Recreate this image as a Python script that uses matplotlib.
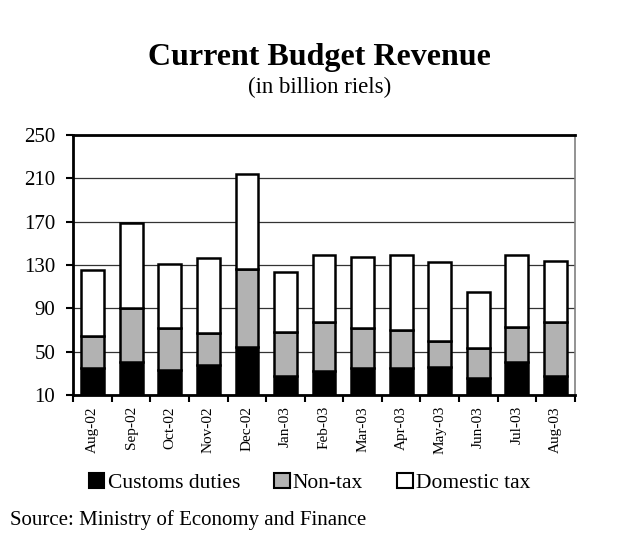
import numpy as np
import matplotlib
matplotlib.use("Agg")
import matplotlib.pyplot as plt
from matplotlib.patches import Patch

# Data (billion riels)
months = ["Aug-02", "Sep-02", "Oct-02", "Nov-02", "Dec-02", "Jan-03", "Feb-03",
          "Mar-03", "Apr-03", "May-03", "Jun-03", "Jul-03", "Aug-03"]
customs = [34.6, 40.8, 33.4, 37.7, 54.0, 27.8, 31.9, 35.2, 34.6, 35.5, 26.0, 40.2, 27.8]
non_tax = [30.1, 49.2, 38.1, 29.2, 72.3, 40.1, 45.2, 36.3, 35.4, 24.3, 27.1, 32.8, 49.9]
domestic = [60.7, 78.5, 59.1, 69.6, 87.4, 55.3, 61.9, 66.2, 69.2, 72.7, 52.3, 66.0, 56.0]
y_ticks = [10, 50, 90, 130, 170, 210, 250]

plt.rcParams['font.family'] = ['Liberation Serif', 'DejaVu Serif']

fig = plt.figure(figsize=(6.36, 5.4), dpi=100)
ax = fig.add_axes([0.1153, 0.2685, 0.7883, 0.4815])

x = np.arange(len(months))
c = np.array(customs)
n = np.array(non_tax)
d = np.array(domestic)
w = 0.59
ax.bar(x, c, w, color='black', edgecolor='black', linewidth=1.8, zorder=3)
ax.bar(x, n, w, bottom=c, color='#b2b2b2', edgecolor='black', linewidth=1.8, zorder=3)
ax.bar(x, d, w, bottom=c + n, color='white', edgecolor='black', linewidth=1.8, zorder=3)

# Axes
ax.set_ylim(10, 250)
ax.set_yticks(y_ticks)
ax.set_xlim(-0.5, len(months) - 0.5)
ax.set_xticks(x)
ax.set_xticklabels(months, rotation=90, fontsize=11)
ax.set_xticks(np.arange(-0.5, len(months)), minor=True)
ax.tick_params(axis='x', which='major', length=0, pad=8)
ax.tick_params(axis='x', which='minor', length=5, width=1.5, direction='out')
ax.tick_params(axis='y', length=5, width=1.5, direction='out', labelsize=15, pad=8)
ax.yaxis.grid(True, color='#333333', linewidth=0.9, zorder=0)
ax.set_axisbelow(True)

for side in ['left', 'bottom', 'top']:
    ax.spines[side].set_linewidth(2)
    ax.spines[side].set_color('black')
ax.spines['right'].set_linewidth(1.2)
ax.spines['right'].set_color('#808080')

# Titles
fig.text(0.503, 0.893, "Current Budget Revenue", ha='center', va='center',
         fontsize=23, fontweight='bold')
fig.text(0.503, 0.838, "(in billion riels)", ha='center', va='center', fontsize=16.5)

# Legend
handles = [Patch(facecolor='black', edgecolor='black', linewidth=1.5),
           Patch(facecolor='#b2b2b2', edgecolor='black', linewidth=1.5),
           Patch(facecolor='white', edgecolor='black', linewidth=1.5)]
fig.legend(handles, ["Customs duties", "Non-tax", "Domestic tax"], ncol=3,
           loc='center', bbox_to_anchor=(0.487, 0.106), frameon=False,
           fontsize=15.5, handlelength=0.7, handleheight=0.7, handletextpad=0.15,
           columnspacing=1.6)

fig.text(0.016, 0.037, "Source: Ministry of Economy and Finance", ha='left', va='center',
         fontsize=15)

fig.savefig("out.png", dpi=100)
